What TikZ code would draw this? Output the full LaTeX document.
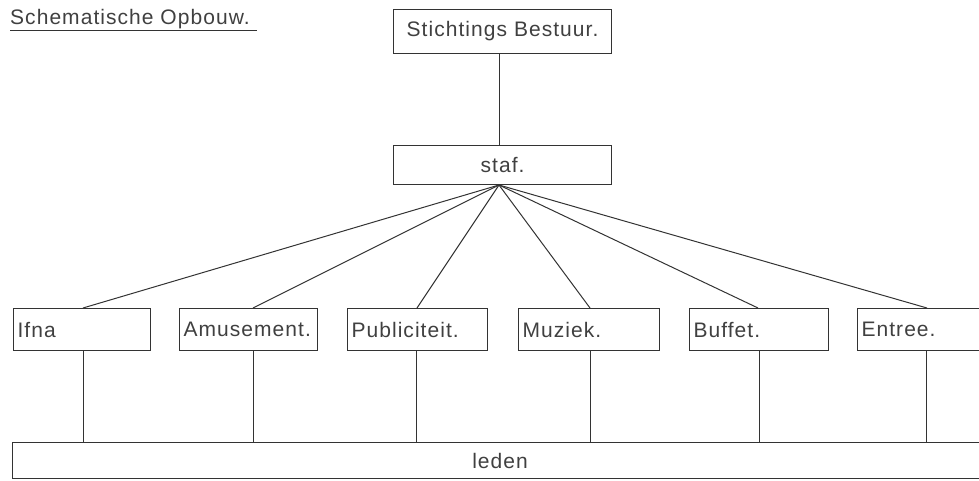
\documentclass[tikz,border=0pt]{standalone}
\usepackage{fontspec}
\setmainfont{Liberation Sans}[LetterSpace=5]
\begin{document}
\begin{tikzpicture}[x=1pt,y=-1pt,
  ink/.style={draw=black!80,line width=1.1pt},
  box/.style={ink,rectangle,inner sep=0pt,anchor=north west,text=black!75,font=\fontsize{21}{24}\selectfont},
  lbox/.style={box,align=left,inner xsep=4pt},
  conn/.style={draw=black!80,line width=1pt}]
\useasboundingbox (0,0) rectangle (979,481);
\clip (0,0) rectangle (979,481);
% title
\node[anchor=base west,inner sep=0pt,text=black!75,font=\fontsize{21}{24}\selectfont] (title) at (10,25) {Schematische Opbouw.};
\draw[conn] (title.south west |- 0,31) coordinate (ul1) -- (257,31) coordinate (ul2);
% top boxes
\node[box,minimum width=218pt,minimum height=44pt] (sb) at (393,9) {Stichtings Bestuur.};
\node[box,minimum width=218pt,minimum height=39pt] (staf) at (393,145) {staf.};
\coordinate (fan) at (499,185);
% bottom boxes
\node[lbox,text width=129pt,minimum height=42pt] (ifna) at (13,308) {Ifna};
\node[lbox,text width=130pt,minimum height=42pt] (amus) at (179,308) {Amusement.};
\node[lbox,text width=132pt,minimum height=42pt] (publ) at (347,308) {Publiciteit.};
\node[lbox,text width=133pt,minimum height=42pt] (muz) at (518,308) {Muziek.};
\node[lbox,text width=131pt,minimum height=42pt] (buf) at (689,308) {Buffet.};
\node[lbox,text width=140pt,minimum height=42pt] (ent) at (857,308) {Entree.};
\node[box,minimum width=975pt,minimum height=36pt] (leden) at (12,442) {leden};
% attach points
\coordinate (ifnaT) at (83,308);
\coordinate (amusT) at (253,308);
\coordinate (publT) at (417,308);
\coordinate (muzT) at (590,308);
\coordinate (bufT) at (758,308);
\coordinate (entT) at (927,308);
\coordinate (ifnaB) at (83,350);
\coordinate (amusB) at (253,350);
\coordinate (publB) at (416,350);
\coordinate (muzB) at (590,350);
\coordinate (bufB) at (759,350);
\coordinate (entB) at (926,350);
% connectors
\draw[conn] (sb.south -| fan) -- (staf.north -| fan);
\foreach \t in {ifnaT,amusT,publT,muzT,bufT,entT}
  \draw[conn] (fan) -- (\t);
\foreach \b in {ifnaB,amusB,publB,muzB,bufB,entB}
  \draw[conn] (\b) -- (\b |- leden.north);
\end{tikzpicture}
\end{document}
